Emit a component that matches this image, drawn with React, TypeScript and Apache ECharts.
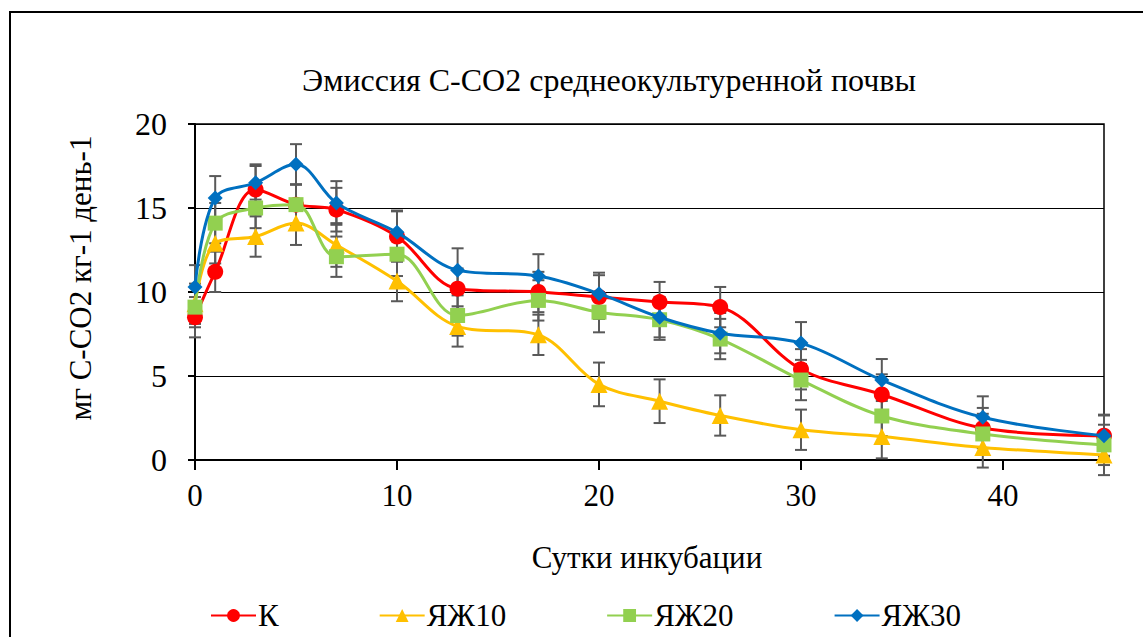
import React, { useEffect, useRef } from "react";
import * as echarts from "echarts";

const days = [0, 1, 3, 5, 7, 10, 13, 17, 20, 23, 26, 30, 34, 39, 45];
const seriesNames = ["К", "ЯЖ10", "ЯЖ20", "ЯЖ30"];
const valuesK = [8.5, 11.2, 16.1, 15.2, 14.9, 13.3, 10.2, 10.0, 9.7, 9.4, 9.1, 5.4, 3.9, 1.9, 1.45];
const valuesYJ10 = [9.3, 12.9, 13.3, 14.1, 12.8, 10.65, 7.95, 7.45, 4.5, 3.5, 2.65, 1.8, 1.4, 0.75, 0.3];
const valuesYJ20 = [9.1, 14.1, 15.0, 15.2, 12.1, 12.25, 8.6, 9.5, 8.8, 8.35, 7.2, 4.76, 2.62, 1.55, 0.9];
const valuesYJ30 = [10.3, 15.6, 16.5, 17.6, 15.3, 13.55, 11.3, 10.95, 9.9, 8.5, 7.55, 6.96, 4.76, 2.54, 1.45];
const errK = [1.2, 1.2, 1.5, 1.2, 1.3, 1.5, 1.2, 1.2, 1.3, 1.2, 1.2, 1.2, 1.2, 1.2, 1.2];
const errYJ10 = [1.2, 1.2, 1.2, 1.3, 1.3, 1.2, 1.2, 1.2, 1.3, 1.3, 1.2, 1.2, 1.3, 1.2, 1.2];
const errYJ20 = [1.2, 1.2, 1.2, 1.2, 1.2, 1.3, 1.2, 1.2, 1.2, 1.2, 1.2, 1.2, 1.2, 1.2, 1.2];
const errYJ30 = [1.3, 1.3, 1.0, 1.2, 1.3, 1.3, 1.3, 1.3, 1.25, 1.2, 1.2, 1.25, 1.25, 1.25, 1.25];
const yTicks = [0, 5, 10, 15, 20];
const xTicks = [0, 10, 20, 30, 40];
const titleText = "Эмиссия C-CO2 среднеокультуренной почвы";

const colors = ["#FF0000", "#FFC000", "#92D050", "#0070C0"];
const symbols = ["circle", "triangle", "rect", "diamond"];
const symbolSizes = [16, 17, 15, 15];
const FONT = "Liberation Serif";

export default function App() {
  const ref = useRef<HTMLDivElement>(null);
  useEffect(() => {
    if (!ref.current) return;
    const chart = echarts.init(ref.current, undefined, { renderer: "svg" });
    const allValues = [valuesK, valuesYJ10, valuesYJ20, valuesYJ30];
    const allErr = [errK, errYJ10, errYJ20, errYJ30];

    const errorSeries = allValues.map((vals, si) => ({
      type: "custom",
      name: seriesNames[si] + "_err",
      silent: true,
      z: 1,
      data: vals.map((v, i) => [days[i], v - allErr[si][i], v + allErr[si][i]]),
      encode: { x: 0, y: [1, 2] },
      renderItem: (params: any, api: any) => {
        const x = api.value(0);
        const lo = api.coord([x, api.value(1)]);
        const hi = api.coord([x, api.value(2)]);
        const w = 6;
        const style = { stroke: "#595959", lineWidth: 2 };
        return {
          type: "group",
          children: [
            { type: "line", shape: { x1: lo[0], y1: lo[1], x2: hi[0], y2: hi[1] }, style },
            { type: "line", shape: { x1: lo[0] - w, y1: lo[1], x2: lo[0] + w, y2: lo[1] }, style },
            { type: "line", shape: { x1: hi[0] - w, y1: hi[1], x2: hi[0] + w, y2: hi[1] }, style },
          ],
        };
      },
    }));

    const lineSeries = allValues.map((vals, si) => ({
      type: "line",
      name: seriesNames[si],
      data: vals.map((v, i) => [days[i], v]),
      smooth: 0.35,
      symbol: symbols[si],
      symbolSize: symbolSizes[si],
      showAllSymbol: true,
      z: 3 + si,
      lineStyle: { color: colors[si], width: 3 },
      itemStyle: { color: colors[si] },
    }));

    chart.setOption({
      animation: false,
      graphic: [
        {
          type: "rect",
          shape: { x: 10, y: 12, width: 1300, height: 800 },
          style: { fill: "none", stroke: "#000", lineWidth: 2 },
          silent: true,
        },
        {
          type: "text",
          x: 647,
          y: 557,
          style: {
            text: "Сутки инкубации",
            fontFamily: FONT,
            fontSize: 31,
            fill: "#000",
            align: "center",
            verticalAlign: "middle",
          },
        },
        {
          type: "text",
          x: 80,
          y: 278,
          rotation: Math.PI / 2,
          style: {
            text: "мг C-CO2 кг-1 день-1",
            fontFamily: FONT,
            fontSize: 31,
            fill: "#000",
            align: "center",
            verticalAlign: "middle",
          },
        },
      ],
      legend: {
        data: seriesNames,
        left: 205,
        top: 595,
        itemGap: 100,
        itemWidth: 45,
        itemHeight: 16,
        textStyle: { fontFamily: FONT, fontSize: 31, color: "#000", padding: [0, 0, 0, -3] },
      },
      grid: {
        left: 195,
        right: 39,
        top: 124,
        bottom: 177,
        show: true,
        borderColor: "#000",
        borderWidth: 1.5,
      },
      xAxis: {
        type: "value",
        min: 0,
        max: 45,
        interval: 10,
        axisLine: { show: true, lineStyle: { color: "#000", width: 2 } },
        axisTick: { show: true, length: 10, lineStyle: { color: "#000", width: 2 } },
        axisLabel: {
          fontFamily: FONT,
          fontSize: 31,
          color: "#000",
          margin: 20,
          showMaxLabel: false,
          formatter: (v: number) => (xTicks.includes(v) ? String(v) : ""),
        },
        splitLine: { show: false },
      },
      yAxis: {
        type: "value",
        min: 0,
        max: 20,
        interval: 5,
        axisLine: { show: true, lineStyle: { color: "#000", width: 2 } },
        axisTick: { show: true, length: 7, lineStyle: { color: "#000", width: 2 } },
        axisLabel: {
          fontFamily: FONT,
          fontSize: 32,
          color: "#000",
          margin: 28,
          formatter: (v: number) => (yTicks.includes(v) ? String(v) : ""),
        },
        splitLine: { show: true, lineStyle: { color: "#000", width: 1.2 } },
      },
      series: [...errorSeries, ...lineSeries],
    });
    return () => chart.dispose();
  }, []);
  return (
    <div>
      <div
        ref={ref}
        style={{ position: "absolute", left: 0, top: 0, width: 1143, height: 637 }}
      />
      <div
        style={{
          position: "absolute",
          left: 302,
          top: 58,
          width: 600,
          textAlign: "center",
          fontFamily: FONT,
          fontSize: 32,
          lineHeight: "44px",
          color: "#000",
          whiteSpace: "nowrap",
          pointerEvents: "none",
        }}
      >
        {titleText}
      </div>
    </div>
  );
}
